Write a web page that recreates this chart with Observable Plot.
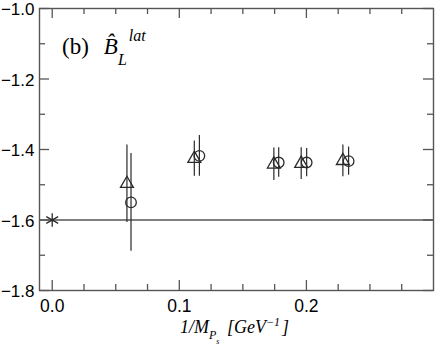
<!DOCTYPE html>
<html>
<head>
<meta charset="utf-8">
<script src="https://cdn.jsdelivr.net/npm/d3@7"></script>
<script src="https://cdn.jsdelivr.net/npm/@observablehq/plot@0.6"></script>
<style>
  html, body { margin: 0; padding: 0; background: #fff; }
</style>
</head>
<body>
<div id="chart"></div>
<script>
// ---- data ----
const xDomain = [-0.01, 0.3];
const yDomain = [-1.8, -1.0];
const xTickLabels = [0.0, 0.1, 0.2];
const xMinorTicks = [0.025, 0.05, 0.075, 0.125, 0.15, 0.175, 0.225, 0.25, 0.275];
const yTickLabels = [-1.8, -1.6, -1.4, -1.2, -1.0];
const yMinorTicks = [-1.7, -1.5, -1.3, -1.1];

const triX   = [0.0588, 0.1118, 0.1744, 0.1959, 0.2287];
const triY   = [-1.497, -1.426, -1.442, -1.440, -1.432];
const triErr = [0.110, 0.050, 0.046, 0.045, 0.045];

const circX   = [0.0620, 0.1158, 0.1782, 0.2002, 0.2332];
const circY   = [-1.550, -1.418, -1.437, -1.437, -1.433];
const circErr = [0.139, 0.058, 0.042, 0.040, 0.040];

const starX = [0.0];
const starY = [-1.6];
const refLineY = [-1.6];

// tables built from arrays
const tri = triX.map((x, i) => ({x, y: triY[i], lo: triY[i] - triErr[i], hi: triY[i] + triErr[i]}));
const circ = circX.map((x, i) => ({x, y: circY[i], lo: circY[i] - circErr[i], hi: circY[i] + circErr[i]}));
const star = starX.map((x, i) => ({x, y: starY[i]}));

const axisColor = "#555";
const ink = "#2a2a2a";
const majorLen = 10, minorLen = 6;

const fmt = d3.format(".1f");

const svg = Plot.plot({
  width: 436,
  height: 355,
  marginLeft: 39,
  marginRight: 3,
  marginTop: 8,
  marginBottom: 65,
  style: {fontFamily: "'Liberation Sans', Arial, Helvetica, sans-serif", fontSize: "17px", background: "#fff", color: "#000"},
  x: {domain: xDomain},
  y: {domain: yDomain},
  marks: [
    Plot.frame({stroke: axisColor, strokeWidth: 1.4}),
    // reference line
    Plot.ruleY(refLineY, {stroke: axisColor, strokeWidth: 1.3}),
    // bottom ticks
    Plot.ruleX(xTickLabels, {x: d => d, y1: yDomain[0], y2: yDomain[0], insetBottom: majorLen, stroke: axisColor, strokeWidth: 1.3}),
    Plot.ruleX(xMinorTicks, {x: d => d, y1: yDomain[0], y2: yDomain[0], insetBottom: minorLen, stroke: axisColor, strokeWidth: 1.3}),
    // top ticks
    Plot.ruleX(xTickLabels, {x: d => d, y1: yDomain[1], y2: yDomain[1], insetBottom: -majorLen, stroke: axisColor, strokeWidth: 1.3}),
    Plot.ruleX(xMinorTicks, {x: d => d, y1: yDomain[1], y2: yDomain[1], insetBottom: -minorLen, stroke: axisColor, strokeWidth: 1.3}),
    // left ticks
    Plot.ruleY(yTickLabels, {y: d => d, x1: xDomain[0], x2: xDomain[0], insetRight: -majorLen, stroke: axisColor, strokeWidth: 1.3}),
    Plot.ruleY(yMinorTicks, {y: d => d, x1: xDomain[0], x2: xDomain[0], insetRight: -minorLen, stroke: axisColor, strokeWidth: 1.3}),
    // right ticks
    Plot.ruleY(yTickLabels, {y: d => d, x1: xDomain[1], x2: xDomain[1], insetRight: majorLen, stroke: axisColor, strokeWidth: 1.3}),
    Plot.ruleY(yMinorTicks, {y: d => d, x1: xDomain[1], x2: xDomain[1], insetRight: minorLen, stroke: axisColor, strokeWidth: 1.3}),
    // tick labels
    Plot.axisX({ticks: xTickLabels, tickSize: 0, tickPadding: 9, tickFormat: fmt, fontSize: 17.5, label: null, color: "#000"}),
    Plot.axisY({ticks: yTickLabels, tickSize: 0, tickPadding: 5, tickFormat: fmt, fontSize: 17, dy: 1.5, label: null, color: "#000"}),
    // error bars
    Plot.ruleX(tri, {x: "x", y1: "lo", y2: "hi", stroke: ink, strokeWidth: 1.2}),
    Plot.ruleX(circ, {x: "x", y1: "lo", y2: "hi", stroke: ink, strokeWidth: 1.2}),
    // markers
    Plot.dot(tri, {x: "x", y: "y", symbol: "triangle", r: 4.8, fill: "#fff", fillOpacity: 0, stroke: ink, strokeWidth: 1.3}),
    Plot.dot(circ, {x: "x", y: "y", symbol: "circle", r: 5.3, fill: "#fff", fillOpacity: 0, stroke: ink, strokeWidth: 1.3}),
    Plot.dot(star, {x: "x", y: "y", symbol: "asterisk", r: 6.5, stroke: ink, strokeWidth: 1.3})
  ]
});

const s = d3.select(svg);
const serif = "'Liberation Serif', 'Times New Roman', Times, serif";

// x-axis label: 1/M_{P_s} [GeV^{-1}]
const lab = s.append("text")
  .attr("font-family", serif).attr("font-style", "italic").attr("font-size", 18)
  .attr("text-anchor", "start")
  .attr("fill", "#000").attr("x", 180).attr("y", 333);
lab.append("tspan").text("1/M");
lab.append("tspan").attr("font-size", 12).attr("dy", 6).text("P");
lab.append("tspan").attr("font-size", 8).attr("dy", 5).text("s");
lab.append("tspan").attr("dy", -11).attr("dx", 3).text(" [GeV");
lab.append("tspan").attr("font-size", 12).attr("dy", -7).text("−1");
lab.append("tspan").attr("dy", 7).attr("dx", 2).text("]");

// panel label: (b) B̂_L^lat (one text, hat as combining circumflex)
const pl = s.append("text").attr("font-family", serif).attr("fill", "#000")
  .attr("text-anchor", "start").attr("x", 62).attr("y", 54).attr("font-size", 23);
pl.append("tspan").text("(b)");
pl.append("tspan").attr("dx", 15).attr("font-style", "italic").text("B\u0302");
pl.append("tspan").attr("dy", 11).attr("font-size", 16).attr("font-style", "italic").text("L");
pl.append("tspan").attr("dy", -24).attr("dx", 2).attr("font-size", 16).attr("font-style", "italic").text("lat");

document.getElementById("chart").appendChild(svg);
</script>
</body>
</html>
